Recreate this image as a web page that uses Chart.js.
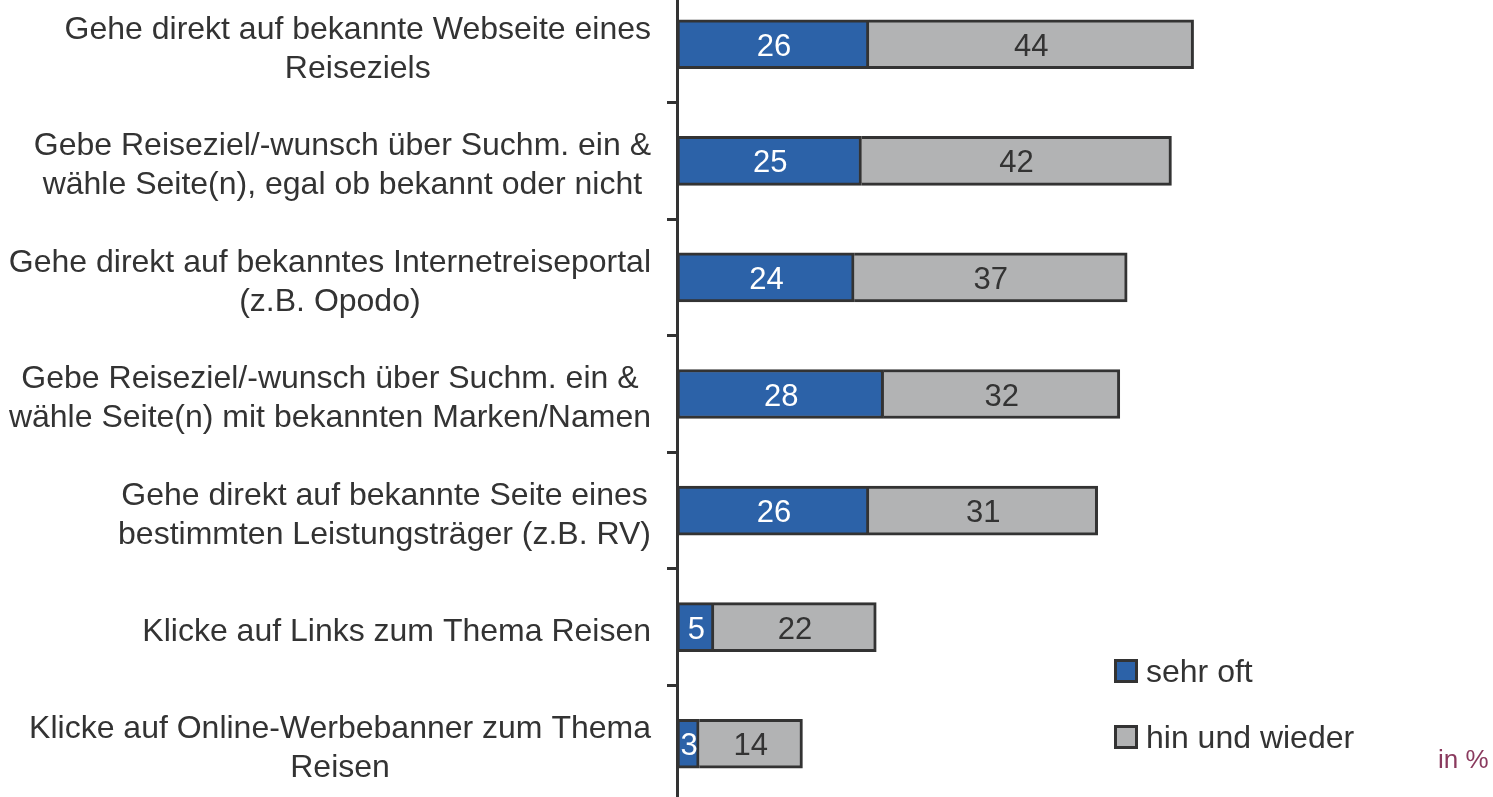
<!DOCTYPE html>
<html>
<head>
<meta charset="utf-8">
<script src="https://cdn.jsdelivr.net/npm/chart.js@4/dist/chart.umd.min.js"></script>
<style>
  html, body { margin: 0; padding: 0; background: #fff; overflow: hidden; }
  body { width: 1493px; height: 797px; position: relative; font-family: "Liberation Sans", Arial, sans-serif; }
  #wrap { position: absolute; left: 0; top: -14px; width: 1493px; height: 816px; }
  .leg { position: absolute; left: 1114px; font-size: 32px; color: #333; line-height: 36px; }
  .leg span { display: inline-block; width: 18px; height: 18px; border: 3px solid #333; vertical-align: -1px; margin-right: 8px; }
  #unit { position: absolute; left: 1438px; top: 744px; font-size: 26px; color: #8a3a5e; }
</style>
</head>
<body>
<div id="wrap"><canvas id="chart"></canvas></div>
<div class="leg" style="top:653px"><span style="background:#2c62a8"></span>sehr oft</div>
<div class="leg" style="top:719px"><span style="background:#b2b3b4"></span>hin und wieder</div>
<div id="unit">in %</div>
<script>
// categories (two-line where the original wraps)
const categories = [
    ["Gehe direkt auf bekannte Webseite eines", "Reiseziels"],
    ["Gebe Reiseziel/-wunsch über Suchm. ein &", "wähle Seite(n), egal ob bekannt oder nicht"],
    ["Gehe direkt auf bekanntes Internetreiseportal", "(z.B. Opodo)"],
    ["Gebe Reiseziel/-wunsch über Suchm. ein &", "wähle Seite(n) mit bekannten Marken/Namen"],
    ["Gehe direkt auf bekannte Seite eines", "bestimmten Leistungsträger (z.B. RV)"],
    ["Klicke auf Links zum Thema Reisen"],
    ["Klicke auf Online-Werbebanner zum Thema", "Reisen"]
];
const sehrOft = [26, 25, 24, 28, 26, 5, 3];
const hinUndWieder = [44, 42, 37, 32, 31, 22, 14];

const FONT = '"Liberation Sans", Arial, sans-serif';

// value labels inside the bars
const barLabels = {
    id: 'barLabels',
    afterDatasetsDraw(chart) {
        const c = chart.ctx;
        c.save();
        c.font = '31px ' + FONT;
        c.textAlign = 'center';
        c.textBaseline = 'middle';
        chart.data.datasets.forEach((ds, i) => {
            const meta = chart.getDatasetMeta(i);
            c.fillStyle = i === 0 ? '#ffffff' : '#333333';
            meta.data.forEach((bar, j) => {
                const x = (bar.x + bar.base) / 2;
                c.fillText(String(ds.data[j]), x + (i === 0 ? 1 : 0), bar.y + 3);
            });
        });
        c.restore();
    }
};

// category labels: each block right-aligned, lines centred within the block
const catLabels = {
    id: 'catLabels',
    afterDraw(chart) {
        const c = chart.ctx;
        const y = chart.scales.y;
        const right = 651, lh = 39;
        c.save();
        c.font = '32px ' + FONT;
        c.fillStyle = '#333';
        c.textAlign = 'center';
        c.textBaseline = 'middle';
        categories.forEach((lines, i) => {
            const w = Math.max(...lines.map(l => c.measureText(l).width));
            const cx = right - w / 2;
            const cy = y.getPixelForValue(i) + 5;
            lines.forEach((l, k) => {
                c.fillText(l, cx, cy + (k - (lines.length - 1) / 2) * lh);
            });
        });
        c.restore();
    }
};

new Chart(document.getElementById('chart'), {
    type: 'bar',
    data: {
        labels: categories,
        datasets: [
            { label: 'sehr oft', data: sehrOft, backgroundColor: '#2c62a8', borderColor: '#333', borderWidth: 3, borderSkipped: false, barThickness: 49 },
            { label: 'hin und wieder', data: hinUndWieder, backgroundColor: '#b2b3b4', borderColor: '#333', borderWidth: 3, borderSkipped: 'left', barThickness: 49 }
        ]
    },
    options: {
        indexAxis: 'y',
        responsive: true,
        maintainAspectRatio: false,
        animation: false,
        layout: { padding: { left: 0, right: 78, top: 0, bottom: 0 } },
        plugins: { legend: { display: false }, tooltip: { enabled: false } },
        scales: {
            x: { stacked: true, display: false, min: 0, max: 100 },
            y: {
                stacked: true,
                ticks: { display: false },
                grid: { offset: true, drawOnChartArea: false, drawTicks: true, tickLength: 10, tickColor: '#333', tickWidth: 3 },
                border: { display: true, color: '#333', width: 3 },
                afterFit(scale) { scale.width = 677; }
            }
        }
    },
    plugins: [barLabels, catLabels]
});
</script>
</body>
</html>
